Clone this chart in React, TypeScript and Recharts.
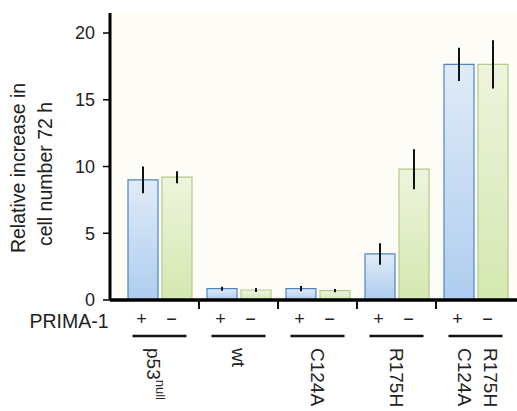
import React from 'react';
import { BarChart, Bar, XAxis, YAxis, CartesianGrid, ErrorBar } from 'recharts';

// genotype groups, each measured with (+) and without (−) PRIMA-1
const genotypes = ['p53', 'wt', 'C124A', 'R175H', 'C124A\nR175H'];
const genotypeSup = ['null', '', '', '', ''];
const plusPrima = [9.0, 0.85, 0.85, 3.45, 17.65];
const plusPrimaErr = [1.0, 0.15, 0.2, 0.8, 1.25];
const minusPrima = [9.2, 0.75, 0.7, 9.8, 17.65];
const minusPrimaErr = [0.45, 0.15, 0.12, 1.5, 1.8];
const primaSigns = ['+', '−'];
const yTicks = [0, 5, 10, 15, 20];

const data = genotypes.map((g, i) => ({
  genotype: g,
  plus: plusPrima[i],
  plusErr: plusPrimaErr[i],
  minus: minusPrima[i],
  minusErr: minusPrimaErr[i],
}));

const FONT = '"Liberation Sans", Arial, Helvetica, sans-serif';
const INK = '#222';
const HALF_BAND = 39.5;

const GenotypeTick = (props: any) => {
  const { x, y, payload, index } = props;
  const lines: string[] = String(payload.value).split('\n');
  const sup = genotypeSup[index];
  return (
    <g fontFamily={FONT} fill={INK}>
      {index > 0 && (
        <line x1={x - HALF_BAND} x2={x - HALF_BAND} y1={y} y2={y + 9} stroke="#111" strokeWidth={2} />
      )}
      {index === 0 && (
        <text x={x - 51} y={y + 28} textAnchor="end" fontSize={19.5}>
          PRIMA-1
        </text>
      )}
      <text x={x - 18} y={y + 19} textAnchor="middle" dominantBaseline="central" fontSize={18}>
        {primaSigns[0]}
      </text>
      <text x={x + 12} y={y + 19} textAnchor="middle" dominantBaseline="central" fontSize={18}>
        {primaSigns[1]}
      </text>
      <line x1={x - 27} x2={x + 27} y1={y + 36} y2={y + 36} stroke="#111" strokeWidth={2.5} />
      {lines.length === 1 ? (
        <text
          transform={`translate(${sup ? x - 6 : x},${y + 48}) rotate(90)`}
          dominantBaseline="central"
          fontSize={19}
        >
          {lines[0]}
          {sup && (
            <tspan dy={-7} fontSize={13}>
              {sup}
            </tspan>
          )}
        </text>
      ) : (
        lines.map((l, i) => (
          <text
            key={l}
            transform={`translate(${x - 11 + i * 26},${y + 48}) rotate(90)`}
            dominantBaseline="central"
            fontSize={19}
          >
            {l}
          </text>
        ))
      )}
    </g>
  );
};

const renderYLabel = () => (
  <g fontFamily={FONT} fontSize={19.5} fill={INK}>
    <text transform="translate(25,168) rotate(-90)" textAnchor="middle">
      Relative increase in
    </text>
    <text transform="translate(52,174) rotate(-90)" textAnchor="middle">
      cell number 72 h
    </text>
  </g>
);

export default function App() {
  return (
    <div style={{ position: 'absolute', left: 0, top: 0, background: '#fff' }}>
      <BarChart
        width={517}
        height={411}
        data={data}
        margin={{ top: 13, right: 0, left: 0, bottom: 0 }}
        barGap={4}
        barSize={30}
      >
        <defs>
          <linearGradient id="blueFill" x1="0" y1="0" x2="0" y2="1">
            <stop offset="0%" stopColor="#e0ebf7" />
            <stop offset="100%" stopColor="#aecdef" />
          </linearGradient>
          <linearGradient id="greenFill" x1="0" y1="0" x2="0" y2="1">
            <stop offset="0%" stopColor="#eef4dd" />
            <stop offset="100%" stopColor="#d4e8b0" />
          </linearGradient>
        </defs>
        <CartesianGrid horizontal={false} vertical={false} fill="#fdfcf7" />
        <XAxis
          dataKey="genotype"
          height={111}
          padding={{ left: 10, right: 2 }}
          axisLine={{ stroke: '#000', strokeWidth: 3.5 }}
          tickLine={false}
          tickSize={0}
          tickMargin={0}
          interval={0}
          tick={<GenotypeTick />}
        />
        <YAxis
          width={110}
          domain={[0, 21.5]}
          ticks={yTicks}
          allowDataOverflow
          axisLine={{ stroke: '#000', strokeWidth: 3 }}
          tickLine={{ stroke: '#000', strokeWidth: 1.5 }}
          tickSize={7}
          tickMargin={8}
          tick={{ fontSize: 18, fill: INK, fontFamily: FONT }}
          label={renderYLabel}
        />
        <Bar dataKey="plus" fill="url(#blueFill)" stroke="#4f86c0" strokeWidth={1.2} isAnimationActive={false}>
          <ErrorBar dataKey="plusErr" width={0} stroke="#111" strokeWidth={2} />
        </Bar>
        <Bar dataKey="minus" fill="url(#greenFill)" stroke="#b3ca86" strokeWidth={1.2} isAnimationActive={false}>
          <ErrorBar dataKey="minusErr" width={0} stroke="#111" strokeWidth={2} />
        </Bar>
      </BarChart>
    </div>
  );
}
